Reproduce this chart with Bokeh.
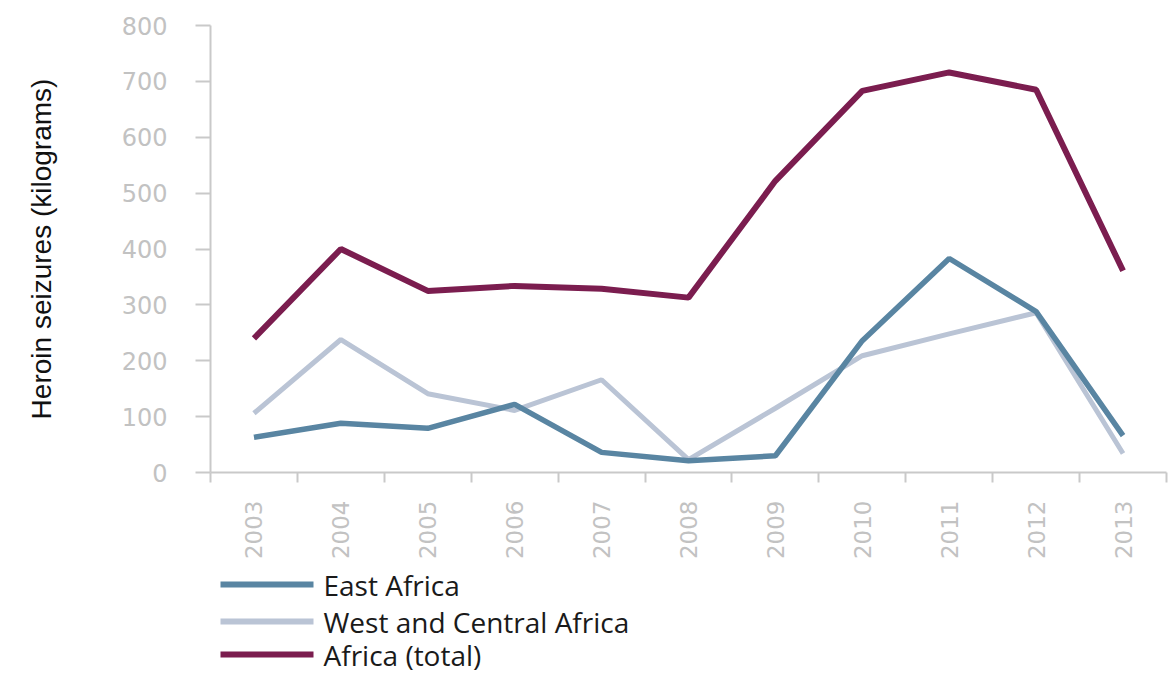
import math
from bokeh.plotting import figure
from bokeh.layouts import column
from bokeh.models import FixedTicker, Range1d
from bokeh.core.properties import value
from bokeh.embed import file_html
from bokeh.resources import INLINE

years = ["2003", "2004", "2005", "2006", "2007", "2008", "2009", "2010", "2011", "2012", "2013"]
east_africa = [63, 88, 79, 122, 36, 21, 30, 236, 383, 288, 66]
west_central_africa = [106, 238, 141, 111, 166, 23, 115, 209, 248, 286, 34]
africa_total = [240, 400, 325, 334, 329, 313, 522, 683, 716, 685, 361]
y_ticks = [0, 100, 200, 300, 400, 500, 600, 700, 800]
series_names = ["East Africa", "West and Central Africa", "Africa (total)"]

xs = list(range(len(years)))

GRAY = "#c9c9c9"
LABEL_GRAY = "#c2c2c2"
C_EAST = "#5985a2"
C_WEST = "#bac4d5"
C_TOTAL = "#7b1d4f"
series_colors = [C_EAST, C_WEST, C_TOTAL]

p = figure(width=1171, height=565,
           x_range=Range1d(-0.5, len(years) - 0.5),
           y_range=Range1d(0, 800),
           output_backend="svg", toolbar_location=None,
           min_border_left=210, min_border_right=5,
           min_border_top=25, min_border_bottom=93)

p.xgrid.grid_line_color = None
p.ygrid.grid_line_color = None
p.outline_line_color = None

p.line(xs, west_central_africa, line_color=C_WEST, line_width=5)
p.line(xs, east_africa, line_color=C_EAST, line_width=5.5)
p.line(xs, africa_total, line_color=C_TOTAL, line_width=6)

# y axis
p.yaxis.ticker = FixedTicker(ticks=y_ticks)
p.yaxis.axis_line_color = GRAY
p.yaxis.axis_line_width = 2
p.yaxis.major_tick_line_color = GRAY
p.yaxis.major_tick_line_width = 2
p.yaxis.major_tick_out = 15
p.yaxis.major_tick_in = 0
p.yaxis.minor_tick_line_color = None
p.yaxis.major_label_standoff = 28
p.yaxis.major_label_text_font = "DejaVu Sans"
p.yaxis.major_label_text_font_size = "24px"
p.yaxis.major_label_text_color = LABEL_GRAY
p.yaxis.axis_label = "Heroin seizures (kilograms)"
p.yaxis.axis_label_text_font = "Liberation Sans"
p.yaxis.axis_label_text_font_size = "28px"
p.yaxis.axis_label_text_font_style = "normal"
p.yaxis.axis_label_text_color = "#111111"
p.yaxis.axis_label_standoff = 62

# x axis
p.xaxis.ticker = FixedTicker(ticks=xs, minor_ticks=[i - 0.5 for i in range(len(years) + 1)])
p.xaxis.major_label_overrides = {i: y for i, y in enumerate(years)}
p.xaxis.axis_line_color = GRAY
p.xaxis.axis_line_width = 2
p.xaxis.major_tick_line_color = None
p.xaxis.major_tick_out = 0
p.xaxis.major_tick_in = 0
p.xaxis.minor_tick_line_color = GRAY
p.xaxis.minor_tick_line_width = 2
p.xaxis.minor_tick_out = 10
p.xaxis.minor_tick_in = 0
p.xaxis.major_label_orientation = math.pi / 2
p.xaxis.major_label_standoff = 18
p.xaxis.major_label_text_font = "DejaVu Sans"
p.xaxis.major_label_text_font_size = "23px"
p.xaxis.major_label_text_color = LABEL_GRAY

# legend strip below the chart (pixel-unit ranges, same frame as the chart)
p2 = figure(width=1171, height=110,
            x_range=Range1d(0, 956), y_range=Range1d(0, 110),
            output_backend="svg", toolbar_location=None,
            x_axis_location=None, y_axis_location=None,
            min_border_left=210, min_border_right=5,
            min_border_top=0, min_border_bottom=0)
p2.xgrid.grid_line_color = None
p2.ygrid.grid_line_color = None
p2.outline_line_color = None

row_y = [91, 54, 21]
p2.segment(x0=[10] * 3, y0=row_y, x1=[103] * 3, y1=row_y,
           line_color=series_colors, line_width=6)
p2.text(x=[113] * 3, y=row_y, text=series_names,
        text_font=value("Open Sans"), text_font_size="28px",
        text_color="#1a1a1a", text_baseline="middle", text_align="left")

layout = column(p, p2, spacing=0)
open("out.html", "w").write(file_html(layout, INLINE))
